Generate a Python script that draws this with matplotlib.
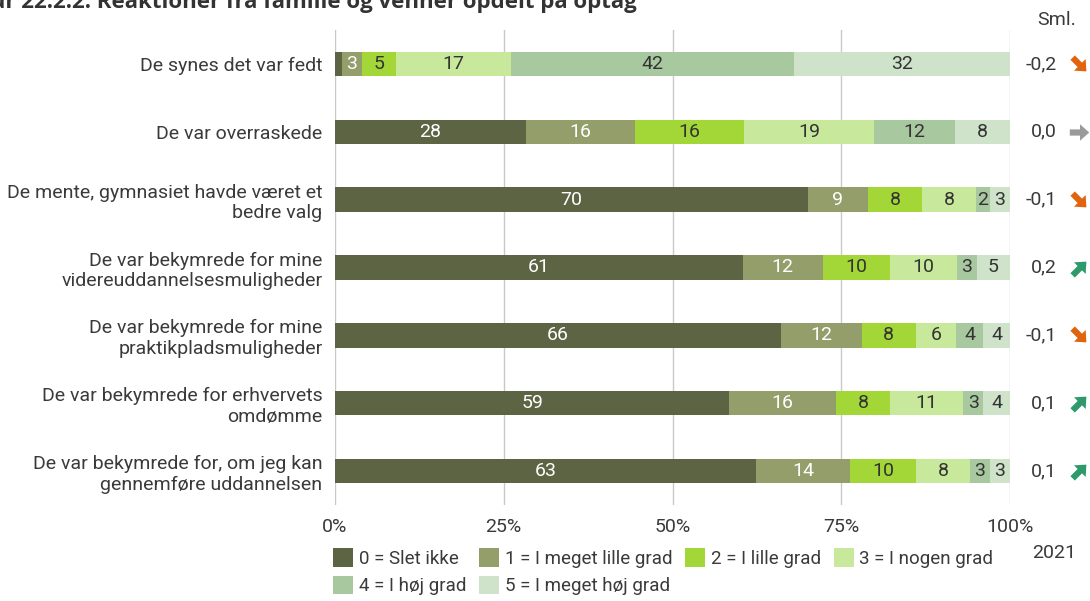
import matplotlib
matplotlib.use("Agg")
import matplotlib.pyplot as plt
import matplotlib.transforms as mtransforms
from matplotlib.patches import Patch
from matplotlib.path import Path
from matplotlib.markers import MarkerStyle

plt.rcParams['font.family'] = ['Roboto', 'DejaVu Sans']

# data
categories = [
    "De synes det var fedt",
    "De var overraskede",
    "De mente, gymnasiet havde været et\nbedre valg",
    "De var bekymrede for mine\nvidereuddannelsesmuligheder",
    "De var bekymrede for mine\npraktikpladsmuligheder",
    "De var bekymrede for erhvervets\nomdømme",
    "De var bekymrede for, om jeg kan\ngennemføre uddannelsen",
]
svar_0 = [1, 28, 70, 61, 66, 59, 63]
svar_1 = [3, 16, 9, 12, 12, 16, 14]
svar_2 = [5, 16, 8, 10, 8, 8, 10]
svar_3 = [17, 19, 8, 10, 6, 11, 8]
svar_4 = [42, 12, 2, 3, 4, 3, 3]
svar_5 = [32, 8, 3, 5, 4, 4, 3]
sml = [-0.2, 0.0, -0.1, 0.2, -0.1, 0.1, 0.1]
legend_labels = ["0 = Slet ikke", "1 = I meget lille grad", "2 = I lille grad",
                 "3 = I nogen grad", "4 = I høj grad", "5 = I meget høj grad"]
ticks = [0, 25, 50, 75, 100]
tick_labels = ["0%", "25%", "50%", "75%", "100%"]

colors = ["#5c6443", "#939e6b", "#a3d637", "#c8e89b", "#a8c8a0", "#cfe3cb"]
text_colors = ["white", "white", "#333333", "#333333", "#333333", "#333333"]
fs = 14

series = [svar_0, svar_1, svar_2, svar_3, svar_4, svar_5]

# block arrow marker pointing right
arrow_verts = [(-1, -0.32), (0.05, -0.32), (0.05, -0.85), (1, 0), (0.05, 0.85),
               (0.05, 0.32), (-1, 0.32), (-1, -0.32)]
arrow_codes = [Path.MOVETO] + [Path.LINETO] * 6 + [Path.CLOSEPOLY]
arrow_path = Path(arrow_verts, arrow_codes)

fig = plt.figure(figsize=(10.9, 6.01), dpi=100)
ax = fig.add_axes([335/1090, 96/601, 675/1090, 475/601])

n = len(categories)
ypos = list(range(n))
totals = [sum(s[i] for s in series) for i in range(n)]
left = [0.0] * n
for k, s in enumerate(series):
    widths = [s[i] / totals[i] * 100 for i in range(n)]
    ax.barh(ypos, widths, left=left, height=0.36, color=colors[k], zorder=3)
    for i in range(n):
        if s[i] >= 2:
            ax.text(left[i] + widths[i] / 2, ypos[i], str(s[i]), ha='center', va='center',
                    fontsize=fs, color=text_colors[k], zorder=4)
    left = [left[i] + widths[i] for i in range(n)]

ax.set_xlim(0, 100)
ax.set_ylim(n - 0.5, -0.5)
ax.set_yticks(ypos)
ax.set_yticklabels(categories, fontsize=fs, color="#3a3a3a")
ax.set_xticks(ticks)
ax.set_xticklabels(tick_labels, fontsize=fs, color="#3a3a3a")
ax.tick_params(length=0, axis='y', pad=9)
ax.tick_params(length=0, axis='x', pad=9)
ax.grid(axis='x', color="#c8c8c8", linewidth=1, zorder=0)
for sp in ax.spines.values():
    sp.set_visible(False)

# Sml. column
trans = mtransforms.blended_transform_factory(fig.transFigure, ax.transData)
for i, v in enumerate(sml):
    ax.text(1057/1090, ypos[i], f"{v:.1f}".replace(".", ","), transform=trans,
            ha='right', va='center', fontsize=fs, color="#3a3a3a")
    if v < 0:
        ang, col = -45, "#e06410"
    elif v > 0:
        ang, col = 45, "#2e9a6c"
    else:
        ang, col = 0, "#9a9a9a"
    m = MarkerStyle(arrow_path, transform=mtransforms.Affine2D().rotate_deg(ang))
    ax.plot([1079/1090], [ypos[i]], transform=trans, marker=m, markersize=14,
            color=col, markeredgewidth=0, linestyle='none', clip_on=False)

fig.text(1076/1090, 1 - 20/601, "Sml.", ha='right', va='center', fontsize=fs, color="#3a3a3a")
fig.text(1076/1090, 1 - 553/601, "2021", ha='right', va='center', fontsize=fs, color="#3a3a3a")

fig.text(637/1090, 1 - 8/601, "Figur 22.2.2: Reaktioner fra familie og venner opdelt på optag",
         ha='right', va='baseline', fontsize=16, fontweight='bold', color="#333333",
         family=['Open Sans', 'DejaVu Sans'])

handles = [Patch(facecolor=c, edgecolor='none') for c in colors]
order = [0, 4, 1, 5, 2, 3]
fig.legend([handles[i] for i in order], [legend_labels[i] for i in order],
           ncol=4, loc='upper left', bbox_to_anchor=(324/1090, 1 - 539/601),
           frameon=False, fontsize=13.5, handlelength=1.05, handleheight=1.15,
           handletextpad=0.3, columnspacing=0.7, labelspacing=0.4, borderpad=0,
           labelcolor="#3a3a3a")

fig.savefig("out.png", dpi=100)
